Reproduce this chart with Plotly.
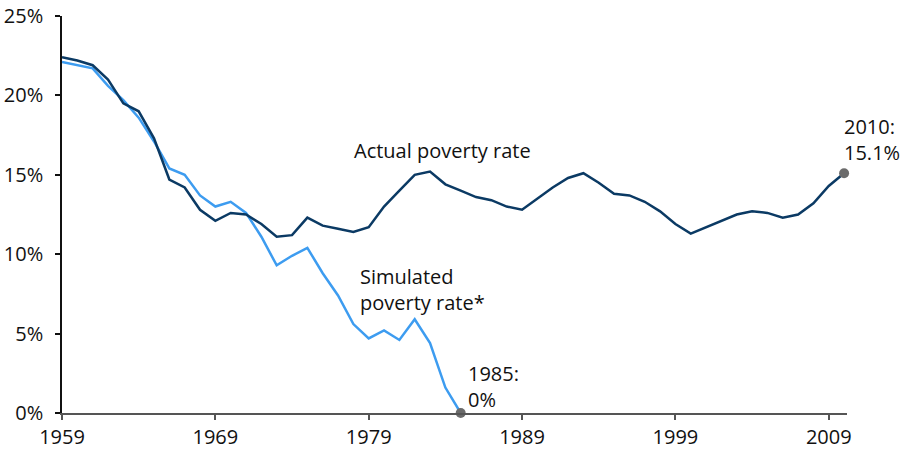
import plotly.graph_objects as go

years_actual = list(range(1959, 2011))
actual_rate = [22.4, 22.2, 21.9, 21.0, 19.5, 19.0, 17.3, 14.7, 14.2, 12.8,
               12.1, 12.6, 12.5, 11.9, 11.1, 11.2, 12.3, 11.8, 11.6, 11.4,
               11.7, 13.0, 14.0, 15.0, 15.2, 14.4, 14.0, 13.6, 13.4, 13.0,
               12.8, 13.5, 14.2, 14.8, 15.1, 14.5, 13.8, 13.7, 13.3, 12.7,
               11.9, 11.3, 11.7, 12.1, 12.5, 12.7, 12.6, 12.3, 12.5, 13.2,
               14.3, 15.1]

years_sim = list(range(1959, 1986))
sim_rate = [22.1, 21.9, 21.7, 20.6, 19.7, 18.6, 17.1, 15.4, 15.0, 13.7,
            13.0, 13.3, 12.6, 11.1, 9.3, 9.9, 10.4, 8.8, 7.4, 5.6,
            4.7, 5.2, 4.6, 5.9, 4.4, 1.6, 0.0]

x_ticks = [1959, 1969, 1979, 1989, 1999, 2009]
y_ticks = [0, 5, 10, 15, 20, 25]
y_tick_text = ["0%", "5%", "10%", "15%", "20%", "25%"]

label_actual = "Actual poverty rate"
label_sim = "Simulated<br>poverty rate*"
label_1985 = "1985:<br>0%"
label_2010 = "2010:<br>15.1%"

NAVY = "#0b3a64"
LIGHT = "#3d9cf0"
GRAY = "#6b6b6b"
FONT = "Open Sans"
TXT = "#111111"

fig = go.Figure()
fig.add_trace(go.Scatter(x=years_sim, y=sim_rate, mode="lines",
                         line=dict(color=LIGHT, width=2.5), hoverinfo="skip"))
fig.add_trace(go.Scatter(x=years_actual, y=actual_rate, mode="lines",
                         line=dict(color=NAVY, width=2.5), hoverinfo="skip"))
fig.add_trace(go.Scatter(x=[years_sim[-1], years_actual[-1]],
                         y=[sim_rate[-1], actual_rate[-1]], mode="markers",
                         marker=dict(color=GRAY, size=10), cliponaxis=False,
                         hoverinfo="skip"))

ann_font = dict(family=FONT, size=20, color=TXT)
fig.add_annotation(x=1977.9, y=16.5, text=label_actual, showarrow=False,
                   xanchor="left", yanchor="middle", align="left", font=ann_font)
fig.add_annotation(x=1978.3, y=7.8, text=label_sim, showarrow=False,
                   xanchor="left", yanchor="middle", align="left", font=ann_font)
fig.add_annotation(x=1985.35, y=1.68, text=label_1985, showarrow=False,
                   xanchor="left", yanchor="middle", align="left", font=ann_font)
fig.add_annotation(x=2009.85, y=17.2, text=label_2010, showarrow=False,
                   xanchor="left", yanchor="middle", align="left", font=ann_font)

fig.update_layout(
    width=906, height=450, autosize=False,
    margin=dict(l=62, r=59, t=16, b=37, pad=0),
    paper_bgcolor="white", plot_bgcolor="white",
    showlegend=False,
    font=dict(family=FONT, size=20, color=TXT),
    xaxis=dict(range=[1959, 2010.19], tickvals=x_ticks, ticks="outside",
               ticklen=5, tickcolor="#555555", tickwidth=1.5,
               showline=True, linecolor="#555555", linewidth=2,
               showgrid=False, zeroline=False, automargin=False),
    yaxis=dict(range=[0, 25], tickvals=y_ticks, ticktext=y_tick_text,
               ticks="outside", ticklen=5, tickcolor="#111111", tickwidth=1.5,
               showline=True, linecolor="#111111", linewidth=1.5,
               showgrid=False, zeroline=False, automargin=False,
               ticklabelstandoff=8),
)

fig.write_html("out.html", config={"displayModeBar": False},
               post_script="document.body.style.margin='0px';")
